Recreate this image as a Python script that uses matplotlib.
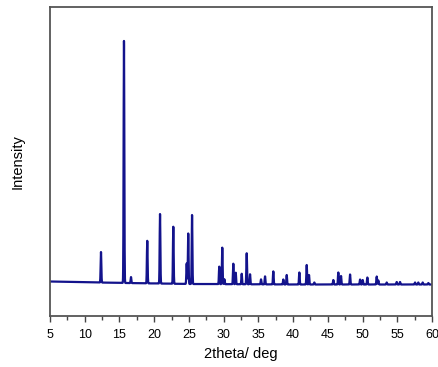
import numpy as np
import matplotlib
matplotlib.use('Agg')
import matplotlib.pyplot as plt

plt.rcParams['font.family'] = ['Liberation Sans', 'DejaVu Sans']

# peak list: position (2theta, deg) and height above background
pico_pos = [12.34, 15.65, 16.66, 19.00, 20.84, 22.75, 24.68, 24.90, 25.45,
            29.37, 29.80, 30.10, 31.39, 31.74, 32.60, 33.32, 33.80, 35.38,
            35.96, 37.15, 38.59, 39.08, 40.90, 41.96, 42.29, 43.06, 45.79,
            46.51, 46.90, 48.20, 49.64, 50.02, 50.69, 52.04, 52.27, 53.48,
            54.92, 55.40, 57.56, 58.03, 58.66, 59.47]
pico_alt = [305, 2420, 60, 425, 695, 570, 205, 505, 690,
            175, 365, 50, 205, 115, 105, 310, 100, 50,
            80, 130, 50, 95, 120, 195, 95, 20, 45,
            120, 85, 100, 50, 45, 70, 80, 40, 20,
            25, 25, 20, 20, 20, 15]

# background level
fundo_x = [5, 12, 16, 25, 40, 60]
fundo_y = [345, 335, 330, 320, 315, 315]

def montarPadrao(pos, alt):
    x = np.arange(5, 60.001, 0.01)
    y = np.interp(x, fundo_x, fundo_y)
    for p, h in zip(pos, alt):
        y = y + h * np.exp(-0.5 * ((x - p) / 0.05) ** 2)
    return x, y

tt, inten = montarPadrao(pico_pos, pico_alt)

fig = plt.figure(figsize=(4.38, 3.67), dpi=100)
ax = fig.add_axes([50/438, 51/367, 382/438, 309/367])
ax.plot(tt, inten, color='#13138c', lw=1.6)

ax.set_xlim(5, 60)
ax.set_ylim(0, 3090)
ax.set_xticks(np.arange(5, 61, 5))
ax.set_xticks(np.arange(7.5, 60, 5), minor=True)
ax.set_yticks([])
ax.tick_params(axis='x', which='major', direction='out', length=4, width=1, labelsize=9, color='#444444', pad=5)
ax.tick_params(axis='x', which='minor', direction='out', length=3, width=1, color='#444444')
ax.tick_params(top=False, right=False)
for s in ax.spines.values():
    s.set_color('#555555')
    s.set_linewidth(1.3)

ax.set_xlabel('2theta/ deg', fontsize=10.5, labelpad=5)
ax.set_ylabel('Intensity', fontsize=10.5, labelpad=18)

plt.savefig('out.png', dpi=100)
